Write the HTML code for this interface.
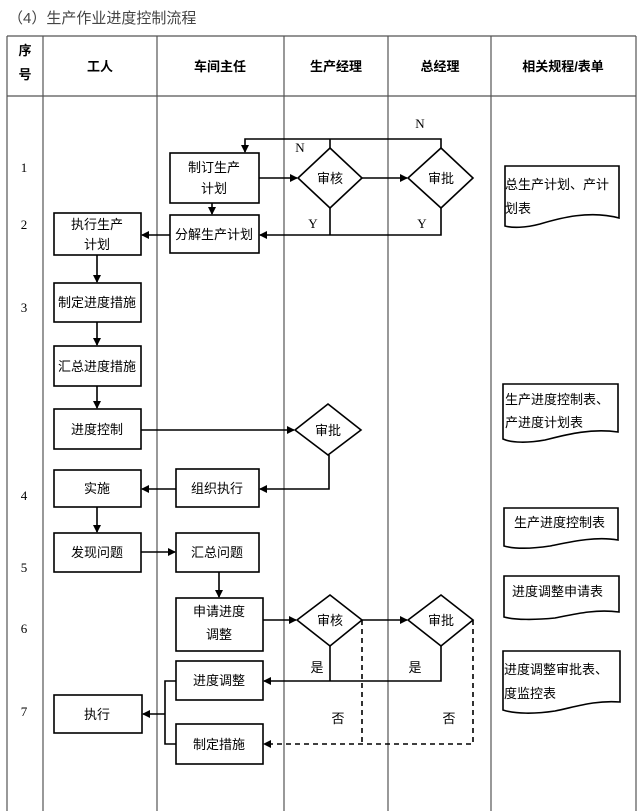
<!DOCTYPE html>
<html><head><meta charset="utf-8"><style>
html,body{margin:0;padding:0;background:#fff;}
svg{display:block;font-family:"Liberation Serif","Noto Sans CJK SC",sans-serif;}
.b{font-family:"Liberation Sans","Noto Sans CJK SC",sans-serif;font-size:13px;}
.h{font-family:"Liberation Sans","Noto Sans CJK SC",sans-serif;font-size:13px;font-weight:bold;}
</style></head><body>
<svg width="639" height="811" viewBox="0 0 639 811" xmlns="http://www.w3.org/2000/svg">
<defs><marker id="a" markerWidth="8" markerHeight="8" refX="7" refY="4" orient="auto" markerUnits="userSpaceOnUse"><path d="M0,0 L8,4 L0,8 z" fill="#000"/></marker></defs>
<text x="8" y="23" font-size="15" fill="#444" font-family="Liberation Sans,Noto Sans CJK SC,sans-serif">（4）生产作业进度控制流程</text>
<g stroke="#555" stroke-width="1.2" fill="none">
<path d="M7,36 H636 M7,96 H636 M7,36 V811 M636,36 V811 M43,36 V811 M157,36 V811 M284,36 V811 M388,36 V811 M491,36 V811"/>
</g>
<g class="h" text-anchor="middle">
<text x="25" y="55">序</text><text x="25" y="79">号</text>
<text x="100" y="71">工人</text><text x="220" y="71">车间主任</text><text x="336" y="71">生产经理</text><text x="440" y="71">总经理</text><text x="563" y="71">相关规程/表单</text>
</g>
<g font-size="13" text-anchor="middle">
<text x="24" y="172">1</text><text x="24" y="229">2</text><text x="24" y="312">3</text><text x="24" y="500">4</text><text x="24" y="572">5</text><text x="24" y="633">6</text><text x="24" y="716">7</text>
<text x="300" y="152">N</text><text x="420" y="128">N</text>
<text x="313" y="228">Y</text><text x="422" y="228">Y</text>
</g>
<g stroke="#000" stroke-width="1.6" fill="#fff">
<rect x="170" y="153" width="89" height="50"/>
<rect x="170" y="215" width="89" height="38"/>
<rect x="54" y="213" width="87" height="42"/>
<rect x="54" y="283" width="87" height="39"/>
<rect x="54" y="346" width="87" height="40"/>
<rect x="54" y="409" width="87" height="40"/>
<rect x="176" y="469" width="83" height="38"/>
<rect x="54" y="470" width="87" height="37"/>
<rect x="54" y="533" width="87" height="39"/>
<rect x="176" y="533" width="83" height="39"/>
<rect x="176" y="598" width="87" height="53"/>
<rect x="176" y="661" width="87" height="39"/>
<rect x="176" y="724" width="87" height="40"/>
<rect x="54" y="695" width="88" height="38"/>
<path d="M330,148 L362,178 L330,208 L298,178 Z"/>
<path d="M441,148 L473,178 L441,208 L408,178 Z"/>
<path d="M328,404 L361,430 L328,455 L295,430 Z"/>
<path d="M330,595 L362,620 L330,646 L297,620 Z"/>
<path d="M441,595 L473,620 L441,646 L408,620 Z"/>
</g>
<g stroke="#000" stroke-width="1.6" fill="none">
<path d="M330,148 V139 M441,148 V139 H245 V152" marker-end="url(#a)"/>
<path d="M330,208 V235 M441,208 V235 H260" marker-end="url(#a)"/>
<path d="M170,235 H142" marker-end="url(#a)"/>
<path d="M259,178 H297" marker-end="url(#a)"/>
<path d="M362,178 H407" marker-end="url(#a)"/>
<path d="M212,203 V214" marker-end="url(#a)"/>
<path d="M97,255 V282" marker-end="url(#a)"/>
<path d="M97,322 V345" marker-end="url(#a)"/>
<path d="M97,386 V408" marker-end="url(#a)"/>
<path d="M141,430 H294" marker-end="url(#a)"/>
<path d="M329,455 V489 H260" marker-end="url(#a)"/>
<path d="M176,489 H142" marker-end="url(#a)"/>
<path d="M97,507 V532" marker-end="url(#a)"/>
<path d="M141,552 H175" marker-end="url(#a)"/>
<path d="M219,572 V597" marker-end="url(#a)"/>
<path d="M263,620 H296" marker-end="url(#a)"/>
<path d="M362,620 H407" marker-end="url(#a)"/>
<path d="M330,646 V681 M441,646 V681 H264" marker-end="url(#a)"/>
<path d="M176,681 H165 V744 H176 M165,714 H143" marker-end="url(#a)"/>
<path d="M362,620 V744 M473,620 V744 H264" stroke-dasharray="5,4" marker-end="url(#a)"/>
</g>
<g stroke="#000" stroke-width="1.6" fill="#fff">
<path d="M505,166 H619 V218 C590,210 560,218 540,224 C525,228 512,228 505,226 Z"/>
<path d="M503,384 H618 V432 C590,428 565,435 545,440 C528,443 512,443 503,439 Z"/>
<path d="M504,508 H618 V540 C595,536 570,542 550,546 C530,549 515,549 504,546 Z"/>
<path d="M504,576 H619 V612 C595,609 575,614 555,618 C535,620 515,620 504,617 Z"/>
<path d="M503,651 H620 V702 C595,700 575,707 555,711 C535,714 515,714 503,710 Z"/>
</g>
<g class="b" text-anchor="middle">
<text x="214" y="172">制订生产</text><text x="214" y="193">计划</text>
<text x="214" y="239">分解生产计划</text>
<text x="97" y="229">执行生产</text><text x="97" y="249">计划</text>
<text x="97" y="307">制定进度措施</text>
<text x="97" y="371">汇总进度措施</text>
<text x="97" y="434">进度控制</text>
<text x="217" y="493">组织执行</text>
<text x="97" y="493">实施</text>
<text x="97" y="557">发现问题</text>
<text x="217" y="557">汇总问题</text>
<text x="219" y="616">申请进度</text><text x="219" y="639">调整</text>
<text x="219" y="685">进度调整</text>
<text x="219" y="749">制定措施</text>
<text x="97" y="719">执行</text>
<text x="330" y="183">审核</text><text x="441" y="183">审批</text>
<text x="328" y="435">审批</text>
<text x="330" y="625">审核</text><text x="441" y="625">审批</text>
<text x="317" y="672">是</text><text x="415" y="672">是</text>
<text x="338" y="723">否</text><text x="449" y="723">否</text>
</g>
<g class="b">
<text x="505" y="189">总生产计划、产计</text><text x="505" y="213">划表</text>
<text x="505" y="404">生产进度控制表、</text><text x="505" y="427">产进度计划表</text>
<text x="514" y="527">生产进度控制表</text>
<text x="512" y="596">进度调整申请表</text>
<text x="504" y="674">进度调整审批表、</text><text x="504" y="698">度监控表</text>
</g>
</svg>
</body></html>
